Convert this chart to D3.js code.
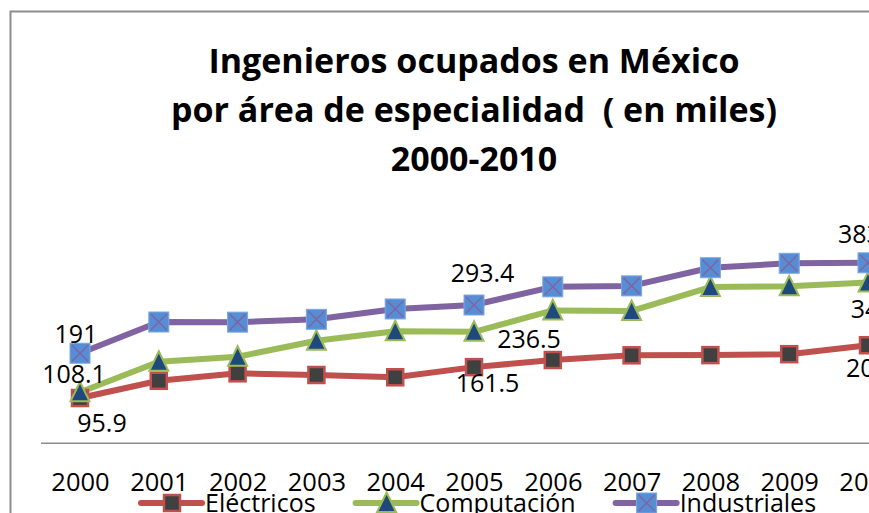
<!DOCTYPE html>
<html>
<head>
<meta charset="utf-8">
<script src="https://cdn.jsdelivr.net/npm/d3@7"></script>
<style>
  body { margin: 0; background: #fff; }
  text { font-family: "Open Sans", sans-serif; }
</style>
</head>
<body>
<div id="chart"></div>
<script>
// data (miles de ingenieros)
let years = ["2000","2001","2002","2003","2004","2005","2006","2007","2008","2009","2010"]
let electricos  = [95.9, 132.5, 148.4, 144.8, 140, 161.5, 176.6, 186.6, 187, 189, 208]
let computacion = [108.1, 173, 183.6, 217.6, 237.6, 236.5, 282, 280.7, 331.6, 333, 341]
let industriales = [191, 257.3, 257, 263, 285, 293.4, 332, 334, 372.6, 382, 383]
let seriesNames = ["Eléctricos", "Computación", "Industriales"]
let labelYears = ["2000", "2005", "2010"]
let titleLines = ["Ingenieros ocupados en México", "por área de especialidad  ( en miles)", "2000-2010"]

window.onload = function (){ setup() }

function setup(){

  let W = 869, H = 513

  let svg = d3.select("#chart")
    .append("svg")
    .attr("width", W)
    .attr("height", H)

  svg.append("rect").attr("width", W).attr("height", H).attr("fill", "#fff")

  // chart frame (cropped on the right and bottom)
  svg.append("path")
    .attr("d", "M10.5," + (H + 5) + "V11.5H" + (W + 5))
    .attr("fill", "none")
    .attr("stroke", "#8c8c8c")
    .attr("stroke-width", 2)

  // title
  svg.append("text")
    .attr("text-anchor", "middle")
    .attr("font-weight", "bold")
    .attr("font-size", 34)
    .style("white-space", "pre")
    .selectAll("tspan")
    .data(titleLines)
    .join("tspan")
    .attr("x", 474)
    .attr("y", (d, i) => 73 + i * 49)
    .text(d => d)

  // scales: plot area runs past the right edge of the window
  let x = d3.scalePoint().domain(years).range([40.6, 907.4]).padding(0.5)
  let y = d3.scaleLinear().domain([0, 500]).range([443.2, 207.7])

  // category axis
  let xAxis = svg.append("g")
    .attr("transform", "translate(0," + y(0) + ")")
    .call(d3.axisBottom(x).tickSize(0).tickPadding(0))
  xAxis.select(".domain")
    .attr("d", "M41,0H" + (W + 5))
    .attr("stroke", "#8c8c8c")
    .attr("stroke-width", 1.5)
  xAxis.selectAll(".tick text")
    .attr("font-family", "Open Sans")
    .attr("font-size", 25.5)
    .attr("fill", "#000")
    .attr("dy", 0)
    .attr("y", 48)

  let series = [
    { name: seriesNames[0], values: electricos,  line: "#C0504D", marker: "square" },
    { name: seriesNames[1], values: computacion, line: "#9BBB59", marker: "triangle" },
    { name: seriesNames[2], values: industriales, line: "#8064A2", marker: "cross" }
  ]

  function drawMarker(g, kind){
    if (kind == "square"){
      g.append("rect").attr("x", -8).attr("y", -8).attr("width", 16).attr("height", 16)
        .attr("fill", "#404040").attr("stroke", "#C0504D").attr("stroke-width", 2.5)
    } else if (kind == "triangle"){
      g.append("path").attr("d", "M0,-10.5L9.5,9L-9.5,9Z")
        .attr("fill", "#1F497D").attr("stroke", "#9BBB59").attr("stroke-width", 2)
        .attr("stroke-linejoin", "miter")
    } else {
      g.append("rect").attr("x", -10).attr("y", -10).attr("width", 20).attr("height", 20)
        .attr("fill", "#558ED5").attr("stroke", "#7DA7E0").attr("stroke-width", 1)
      g.append("path").attr("d", "M-8,-8L8,8M8,-8L-8,8")
        .attr("stroke", "#8064A2").attr("stroke-width", 1.5)
    }
  }

  let line = d3.line()
    .x((d, i) => x(years[i]))
    .y(d => y(d))

  series.forEach(s => {
    svg.append("path")
      .datum(s.values)
      .attr("d", line)
      .attr("fill", "none")
      .attr("stroke", s.line)
      .attr("stroke-width", 6)
      .attr("stroke-linejoin", "round")
      .attr("stroke-linecap", "round")
  })

  series.forEach(s => {
    svg.append("g")
      .selectAll("g")
      .data(s.values)
      .join("g")
      .attr("transform", (d, i) => "translate(" + x(years[i]) + "," + y(d) + ")")
      .each(function(){ drawMarker(d3.select(this), s.marker) })
  })

  // data label placement (offset from the point, anchor)
  let labelPos = {
    "Eléctricos":   [[22, 34, "middle"], [13.5, 24.6, "middle"], [-22, 31.5, "start"]],
    "Computación":  [[-6, -9, "middle"], [55, 16.5, "middle"], [-17.3, 35.7, "start"]],
    "Industriales": [[-4, -10, "middle"], [8.5, -23, "middle"], [-30, -20, "start"]]
  }

  series.forEach(s => {
    labelYears.forEach((yr, j) => {
      let i = years.indexOf(yr)
      let p = labelPos[s.name][j]
      svg.append("text")
        .attr("x", x(yr) + p[0])
        .attr("y", y(s.values[i]) + p[1])
        .attr("text-anchor", p[2])
        .attr("font-size", 25)
        .attr("fill", "#000")
        .text(s.values[i])
    })
  })

  // legend
  let lx = 141, ly = 503
  series.forEach(s => {
    let g = svg.append("g").attr("transform", "translate(" + lx + "," + ly + ")")
    g.append("line").attr("x1", 0).attr("x2", 61).attr("y1", 0).attr("y2", 0)
      .attr("stroke", s.line).attr("stroke-width", 6).attr("stroke-linecap", "round")
    let m = g.append("g").attr("transform", "translate(31,0)")
    drawMarker(m, s.marker)
    let t = g.append("text").attr("x", 64).attr("y", 9)
      .attr("font-size", 25).attr("fill", "#000").text(s.name)
    lx += 64 + t.node().getComputedTextLength() + 40
  })
}
</script>
</body>
</html>
